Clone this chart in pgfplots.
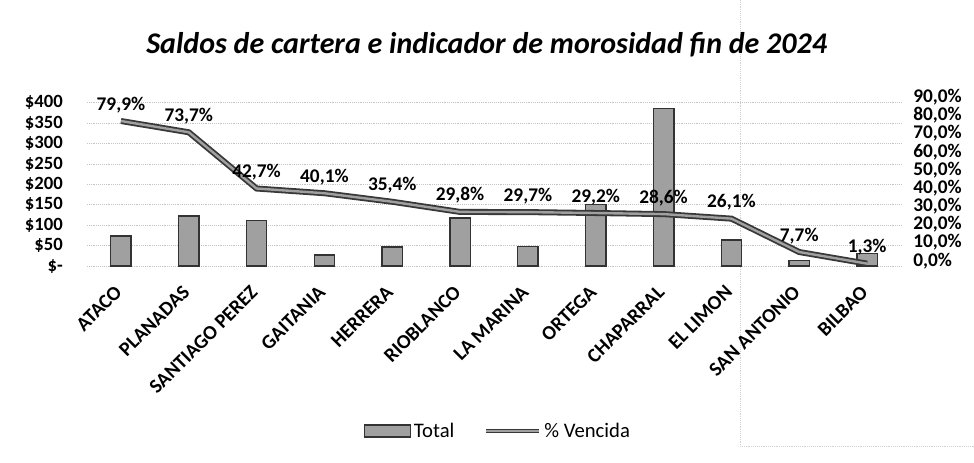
\documentclass[border=0pt]{standalone}
\usepackage{fontspec}
\setmainfont{Carlito}
\usepackage{pgfplots}
\usepackage{pgfplotstable}
\pgfplotsset{compat=1.18}
\definecolor{barfill}{HTML}{A0A0A0}
\definecolor{baredge}{HTML}{333333}
\definecolor{linedark}{HTML}{383838}
\definecolor{linelight}{HTML}{A0A0A0}
\definecolor{gridc}{HTML}{C4C4C4}

\pgfplotstableread{
x total pct
0 74 79.9
1 123 73.7
2 112 42.7
3 27 40.1
4 46 35.4
5 117 29.8
6 48 29.7
7 150 29.2
8 386 28.6
9 64 26.1
10 13 7.7
11 31 1.3
}\datatable

\begin{document}
\begin{tikzpicture}
\useasboundingbox (0,0) rectangle (730.5pt,346.5pt);
\draw[gray!35, densely dotted] (555pt,346.5pt) -- (555pt,12pt) -- (730.5pt,12pt);
\node[font=\bfseries\itshape\fontsize{22.5}{26}\selectfont] at (365pt,313pt) {Saldos de cartera e indicador de morosidad fin de 2024};
\begin{axis}[
  at={(65.25pt,147pt)}, anchor=south west,
  scale only axis, width=610.5pt, height=122.5pt,
  xmin=-0.5, xmax=11.5, ymin=0, ymax=400,
  xtick={0,...,11},
  xticklabels={ATACO,PLANADAS,SANTIAGO PEREZ,GAITANIA,HERRERA,RIOBLANCO,LA MARINA,ORTEGA,CHAPARRAL,EL LIMON,SAN ANTONIO,BILBAO},
  xticklabel style={xshift=-5.5pt, yshift=-13.5pt, rotate=45, anchor=north east, inner sep=0pt, font=\bfseries\fontsize{15}{17}\selectfont},
  ytick={0,50,...,400},
  yticklabels={\$-,\$50,\$100,\$150,\$200,\$250,\$300,\$350,\$400},
  yticklabel style={anchor=east, inner sep=0pt, xshift=-18pt, font=\bfseries\fontsize{14}{16}\selectfont},
  axis line style={draw=none},
  major tick length=0pt,
  ymajorgrids, grid style={gridc, densely dotted, line width=0.6pt},
  clip=false,
]
\addplot[ybar, bar width=0.3, fill=barfill, draw=baredge, line width=1.1pt] table[x=x, y=total]{\datatable};
\end{axis}
\begin{axis}[
  at={(65.25pt,147pt)}, anchor=south west,
  scale only axis, width=610.5pt, height=122.5pt,
  xmin=-0.5, xmax=11.5, ymin=0, ymax=90,
  axis x line=none, axis y line*=right,
  ytick={0,10,...,90},
  yticklabels={{0,0\%},{10,0\%},{20,0\%},{30,0\%},{40,0\%},{50,0\%},{60,0\%},{70,0\%},{80,0\%},{90,0\%}},
  yticklabel style={anchor=west, inner sep=0pt, xshift=9pt, yshift=4pt, font=\bfseries\fontsize{14.5}{16}\selectfont},
  axis line style={draw=none}, major tick length=0pt,
  clip=false,
  legend style={at={(0.505,-1.01)}, anchor=center, draw=none, fill=none, legend columns=2,
    font=\fontsize{15.5}{18}\selectfont, inner sep=0pt,
    /tikz/every even column/.append style={column sep=20pt}},
  legend cell align=left,
]
\addlegendimage{legend image code/.code={\draw[fill=barfill,draw=baredge,line width=0.8pt] (0pt,-4.5pt) rectangle (35pt,4.5pt);}}
\addlegendentry{Total}
\addplot[linedark, line width=4.5pt, mark=none,
  legend image code/.code={\draw[linedark,line width=3.5pt] (0pt,0pt) -- (40pt,0pt);\draw[linelight,line width=1.2pt] (0pt,0pt) -- (40pt,0pt);}]
  table[x=x, y=pct]{\datatable};
\addlegendentry{\% Vencida}
\addplot[linelight, line width=1.8pt, mark=none, forget plot,
  nodes near coords={\pgfmathprintnumber[fixed,fixed zerofill,precision=1,use comma,assume math mode=true]{\pgfplotspointmeta}\%},
  nodes near coords style={font=\bfseries\fontsize{14.5}{16}\selectfont, text=black, anchor=south, yshift=2pt}]
  table[x=x, y=pct]{\datatable};
\end{axis}
\end{tikzpicture}
\end{document}
